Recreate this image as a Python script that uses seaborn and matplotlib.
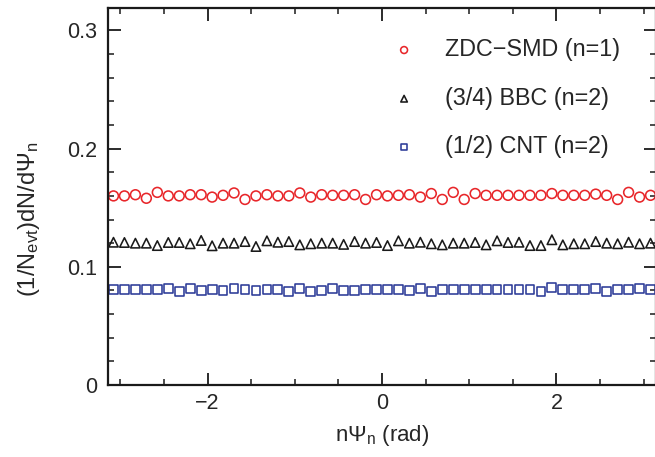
import numpy as np
import pandas as pd
import matplotlib
matplotlib.use("Agg")
import matplotlib.pyplot as plt
import seaborn as sns
from matplotlib.ticker import MultipleLocator, FixedLocator, FuncFormatter

# ---- data ----
n_bins = 50
zdc_smd = [0.1600, 0.1600, 0.1610, 0.1580, 0.1630, 0.1600, 0.1600, 0.1610, 0.1610, 0.1590,
           0.1605, 0.1625, 0.1570, 0.1600, 0.1610, 0.1600, 0.1600, 0.1625, 0.1590, 0.1610,
           0.1605, 0.1605, 0.1610, 0.1570, 0.1610, 0.1600, 0.1605, 0.1610, 0.1590, 0.1620,
           0.1570, 0.1630, 0.1570, 0.1620, 0.1605, 0.1605, 0.1605, 0.1605, 0.1605, 0.1605,
           0.1620, 0.1605, 0.1605, 0.1605, 0.1615, 0.1605, 0.1570, 0.1630, 0.1590, 0.1605]
bbc = [0.1208, 0.1206, 0.1200, 0.1200, 0.1180, 0.1206, 0.1206, 0.1195, 0.1223, 0.1178,
       0.1200, 0.1200, 0.1214, 0.1172, 0.1220, 0.1208, 0.1214, 0.1186, 0.1195, 0.1200,
       0.1200, 0.1190, 0.1214, 0.1200, 0.1206, 0.1180, 0.1220, 0.1200, 0.1208, 0.1195,
       0.1186, 0.1200, 0.1200, 0.1206, 0.1186, 0.1220, 0.1206, 0.1208, 0.1180, 0.1180,
       0.1229, 0.1186, 0.1195, 0.1195, 0.1214, 0.1200, 0.1195, 0.1208, 0.1195, 0.1200]
cnt = [0.0805, 0.0811, 0.0805, 0.0805, 0.0805, 0.0814, 0.0791, 0.0819, 0.0799, 0.0805,
       0.0797, 0.0814, 0.0805, 0.0799, 0.0805, 0.0811, 0.0791, 0.0814, 0.0791, 0.0799,
       0.0819, 0.0799, 0.0799, 0.0805, 0.0808, 0.0805, 0.0805, 0.0797, 0.0816, 0.0791,
       0.0811, 0.0805, 0.0805, 0.0805, 0.0805, 0.0805, 0.0805, 0.0805, 0.0811, 0.0791,
       0.0825, 0.0805, 0.0805, 0.0805, 0.0814, 0.0791, 0.0805, 0.0805, 0.0814, 0.0811]
labels = ["ZDC\u2212SMD (n=1)", "(3/4) BBC (n=2)", "(1/2) CNT (n=2)"]
x_major = [-2, 0, 2]
y_major = [0, 0.1, 0.2, 0.3]
y_major_labels = ["0", "0.1", "0.2", "0.3"]

edges = np.linspace(-np.pi, np.pi, n_bins + 1)
centers = 0.5 * (edges[:-1] + edges[1:])
df = pd.DataFrame({"psi": centers, "zdc": zdc_smd, "bbc": bbc, "cnt": cnt})

# ---- style ----
sns.set_style("ticks")
plt.rcParams["font.family"] = ["Liberation Sans", "DejaVu Sans"]
plt.rcParams["mathtext.fontset"] = "custom"
plt.rcParams["mathtext.rm"] = "Liberation Sans"
plt.rcParams["mathtext.it"] = "Liberation Sans:italic"

fig = plt.figure(figsize=(6.55, 4.57), dpi=100)
ax = fig.add_axes([108 / 655, 1 - 385 / 457, 548 / 655, 377 / 457])

red = "#e8262a"
blk = "#1a1a1a"
blu = "#2c3b98"
sns.scatterplot(data=df, x="psi", y="zdc", marker="o", s=50, facecolor="none",
                edgecolor=red, linewidth=1.15, label=labels[0], ax=ax)
sns.scatterplot(data=df, x="psi", y="bbc", marker="^", s=46, facecolor="none",
                edgecolor=blk, linewidth=1.15, label=labels[1], ax=ax)
sns.scatterplot(data=df, x="psi", y="cnt", marker="s", s=40, facecolor="none",
                edgecolor=blu, linewidth=1.15, label=labels[2], ax=ax)

ax.set_xlim(-np.pi, np.pi)
ax.set_ylim(0, 0.319)

ax.xaxis.set_major_locator(FixedLocator(x_major))
ax.xaxis.set_minor_locator(MultipleLocator(0.5))
ax.xaxis.set_major_formatter(FuncFormatter(lambda v, p: f"{v:.0f}".replace("-", "\u2212")))
ax.yaxis.set_major_locator(FixedLocator(y_major))
ax.yaxis.set_minor_locator(MultipleLocator(0.02))
ax.yaxis.set_major_formatter(FuncFormatter(
    lambda v, p: y_major_labels[int(round(v * 10))] if 0 <= int(round(v * 10)) < 4 else ""))

for sp in ax.spines.values():
    sp.set_visible(True)
    sp.set_linewidth(1.6)
    sp.set_color("#1a1a1a")

ax.tick_params(which="both", direction="in", top=True, right=True, color="#1a1a1a")
ax.tick_params(which="major", length=9, width=1.3, labelsize=15.5)
ax.tick_params(which="minor", length=4.5, width=1.1)
ax.tick_params(axis="y", which="major", pad=8)
ax.tick_params(axis="x", which="major", pad=6)

ax.set_xlabel("n\u03a8$_\\mathregular{n}$ (rad)", fontsize=16)
ax.set_ylabel("(1/N$_\\mathregular{evt}$)dN/d\u03a8$_\\mathregular{n}$", fontsize=17)
ax.xaxis.set_label_coords(0.5, -0.10)
ax.yaxis.set_label_coords(-0.12, 0.44)

leg = ax.legend(loc="upper left", bbox_to_anchor=(0.519, 0.92), frameon=False,
                fontsize=16.8, handlelength=1.0, handletextpad=1.25,
                labelspacing=1.1, borderpad=0, borderaxespad=0, markerscale=0.7)

fig.savefig("out.png", dpi=100)
